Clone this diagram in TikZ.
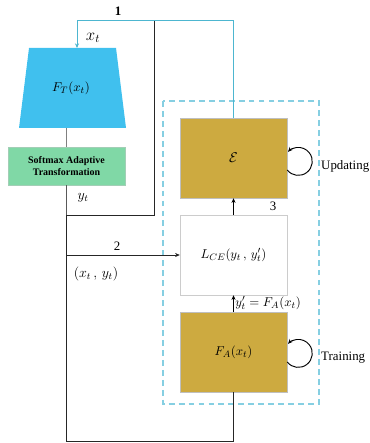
\documentclass[tikz,border=0pt]{standalone}
\usepackage{fontspec}
\setmainfont{Liberation Serif}
\usepackage{tikz}
\usetikzlibrary{shapes.geometric,arrows.meta,positioning}

\definecolor{ftblue}{HTML}{40C0EE}
\definecolor{satgreen}{HTML}{80D8A6}
\definecolor{boxgold}{HTML}{CDAA40}
\definecolor{linecyan}{HTML}{4DB6D0}
\definecolor{dashcyan}{HTML}{86CFE2}

\tikzset{
  goldbox/.style={draw=gray!50, fill=boxgold, minimum width=32.1mm, minimum height=24mm, inner sep=0pt},
  whitebox/.style={draw=gray!40, fill=white, minimum width=32.1mm, minimum height=24mm, inner sep=0pt},
  darkline/.style={black!85, line width=0.8pt},
  tip/.style={-{Stealth[length=4pt,width=3.5pt]}}
}

\begin{document}
\begin{tikzpicture}[x=0.3mm, y=-0.3mm, font=\fontsize{11}{13}\selectfont]
  \useasboundingbox (0,0) rectangle (370,443);

  % Draw the classifier and the softmax block
  \fill[ftblue] (29,48) -- (116,48) -- (126,128) -- (19,128) -- cycle;
  \coordinate (fttop) at (72.5,48);
  \coordinate (ftbot) at (72.5,128);
  \node (ft) at (71,88) {$F_T(x_t)$};
  \node[fill=satgreen, draw=satgreen!80!black!60, minimum width=35.1mm, minimum height=11.4mm,
        align=center, inner sep=0pt, font=\bfseries\fontsize{8.5}{10}\selectfont] (sat) at (66.5,166)
        {Softmax Adaptive\\Transformation};

  % Draw the dashed frame and its boxes
  \draw[dashcyan, dash pattern=on 5pt off 3.5pt, line width=0.95pt] (163,101) rectangle (319,404);
  \node[goldbox] (eps) at (233.5,158) {\large$\mathcal{E}$};
  \node[whitebox] (lce) at (233.5,255) {$L_{CE}(y_t\,,\,y'_t)$};
  \node[goldbox] (fa) at (233.5,352) {$F_A(x_t)$};

  % Junctions of the lines
  \coordinate (j) at (sat.south |- 0,215);
  \coordinate (c1) at (77,20);

  % Connect the blocks
  \draw[gray, line width=0.8pt] (sat.north |- ftbot) -- (sat.north);
  \draw[gray!70!black, line width=0.8pt] (sat.south) -- (j);
  \draw[darkline] (j) -- (154,215) -- (154,20);
  \draw[darkline] (j) -- (j |- 0,441) -| (fa.south);
  \draw[linecyan, line width=0.8pt, tip] (eps.north) |- (c1) -- (c1 |- fttop);
  \draw[darkline, tip] (j |- 0,255) -- (lce.west);
  \draw[black, line width=0.6pt, tip] (lce.north) -- (eps.south);
  \draw[black, line width=0.6pt, tip] (fa.north) -- (lce.south);

  % Self loops
  \draw[black, line width=0.8pt, tip] ([yshift=-3.6mm]eps.east) arc (218:497:4.2mm);
  \draw[black, line width=0.8pt, tip] ([yshift=-3.0mm]fa.east) arc (218:497:4.2mm);

  % Labels
  \node (n1) at (118,11) {\bfseries 1};
  \node (xt) at (93,38) {\Large$x_t$};
  \node (yt) at (83,198) {\large$y_t$};
  \node (n2) at (117,246) {2};
  \node (xy) at (96,274) {\large$(x_t\,,\,y_t)$};
  \node (n3) at (273,206) {3};
  \node[anchor=west, inner sep=1pt] (ya) at (234,303) {$y'_t = F_A(x_t)$};
  \node[anchor=west, inner sep=0pt] (upd) at (321,166) {Updating};
  \node[anchor=west, inner sep=0pt] (trn) at (321,358) {Training};
\end{tikzpicture}
\end{document}
